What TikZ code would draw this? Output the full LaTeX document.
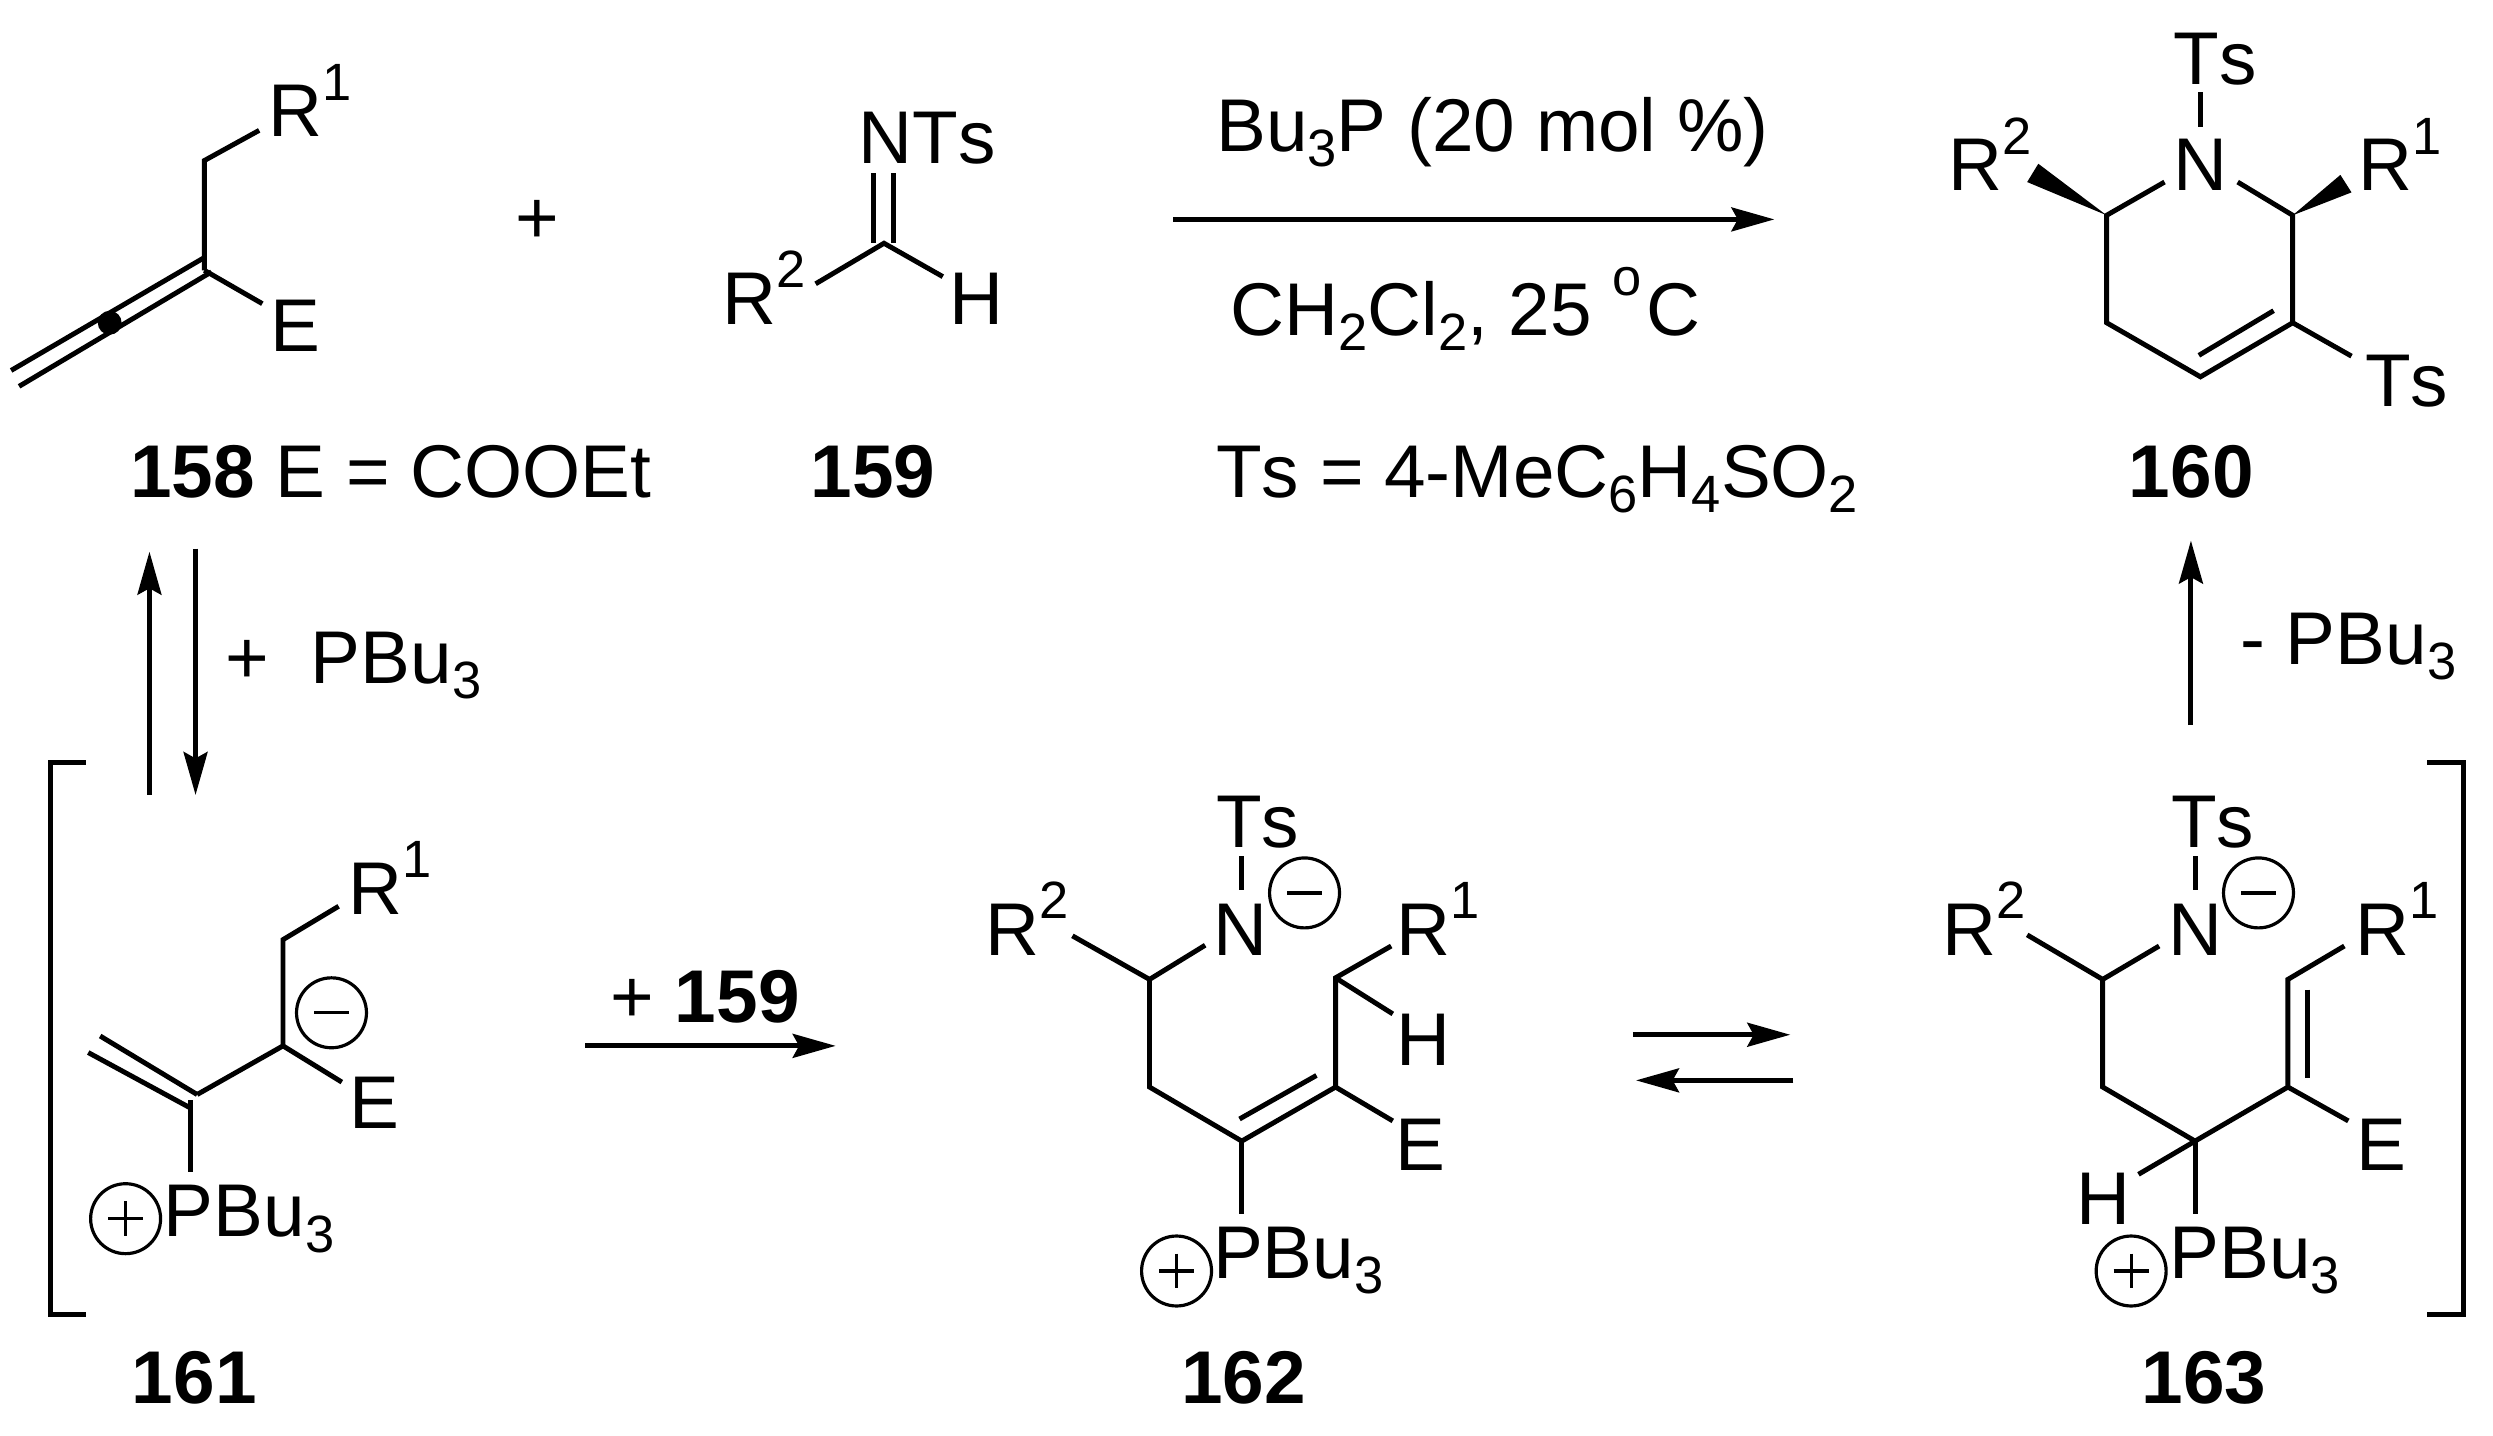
\documentclass[tikz,border=0pt]{standalone}
\usepackage{fontspec}
\setmainfont[Kerning=Off]{Liberation Sans}
\usetikzlibrary{arrows.meta}
\newcommand{\lsub}[1]{\raisebox{-9.5pt}{\fontsize{33}{33}\selectfont #1}}
\newcommand{\lsup}[1]{\raisebox{23pt}{\fontsize{33}{33}\selectfont #1}}
\tikzset{
  bond/.style={line width=3.1pt,line cap=butt,line join=miter},
  rxn/.style={line width=3.1pt,-{Stealth[length=27pt,width=15pt,inset=4pt]}},
  brk/.style={line width=3.2pt,line join=miter},
  txt/.style={anchor=base west,inner sep=0pt,outer sep=0pt,font=\fontsize{47}{56}\selectfont},
  chg/.style={circle,draw,line width=2pt,minimum size=44pt,inner sep=0pt},
  sgn/.style={line width=2pt},
  pics/chgm/.style={code={\node[chg] (#1) at (0,0) {};\draw[sgn] (-11,0) -- (11,0);}},
  pics/chgp/.style={code={\node[chg] (#1) at (0,0) {};\draw[sgn] (-11,0) -- (11,0) (0,-11) -- (0,11);}},
}
\begin{document}
\begin{tikzpicture}[x=1pt,y=-1pt]
\useasboundingbox (0,0) rectangle (1568,902.6);
% ---- 158
\coordinate (a1) at (128.5,101);
\coordinate (a2) at (163,82);
\coordinate (a3) at (128.5,170);
\coordinate (a4) at (128.5,162);
\coordinate (a5) at (7,233);
\coordinate (a6) at (133,171);
\coordinate (a7) at (12,243);
\coordinate (a8) at (165,191);
\draw[bond] (a2) -- (a1) -- (a3);
\draw[bond] (a4) -- (a5);
\draw[bond] (a6) -- (a7);
\draw[bond] (a3) -- (a8);
\node[circle,fill=black,inner sep=0pt,minimum size=15pt] (dot) at (69,203) {};
\node[txt] (t1) at (169,86) {R\lsup{1}};
\node[txt] (t2) at (170,221) {E};
\node[txt] (t3) at (82,313) {\textbf{158} E = COOEt};
\node[txt] (plus) at (324,153) {+};
% ---- 159
\coordinate (b1) at (549.5,109);
\coordinate (b2) at (549.5,153);
\coordinate (b3) at (562,109);
\coordinate (b4) at (562,153);
\coordinate (b5) at (556,153);
\coordinate (b6) at (513,178.5);
\coordinate (b7) at (593,174);
\draw[bond] (b1) -- (b2);
\draw[bond] (b3) -- (b4);
\draw[bond] (b6) -- (b5) -- (b7);
\node[txt] (t4) at (540,103) {NTs};
\node[txt] (t5) at (454.5,204) {R\lsup{2}};
\node[txt] (t6) at (597,204) {H};
\node[txt] (t7) at (510,313) {\textbf{159}};
% ---- main arrow
\coordinate (m1) at (738,138);
\coordinate (m2) at (1116,138);
\draw[rxn] (m1) -- (m2);
\node[txt] (t8) at (765,95.5) {Bu\lsub{3}P (20 mol \%)};
\node[txt] (t9) at (774,211) {CH\lsub{2}Cl\lsub{2}, 25 \raisebox{25pt}{\fontsize{33}{33}\selectfont o}\kern3pt C};
\node[txt] (t10) at (765,313) {Ts = 4-MeC\lsub{6}H\lsub{4}SO\lsub{2}};
% ---- 160
\coordinate (c1) at (1325,135.4);
\coordinate (c2) at (1361.4,114.5);
\coordinate (c3) at (1442,135.4);
\coordinate (c4) at (1407.4,114.5);
\coordinate (c5) at (1325,203);
\coordinate (c6) at (1384,237);
\coordinate (c7) at (1442,203);
\coordinate (c8) at (1430,195.4);
\coordinate (c9) at (1383,223.5);
\coordinate (c10) at (1479,224);
\coordinate (c11) at (1384,58);
\coordinate (c12) at (1384,80);
\coordinate (c13) at (1275,114.5);
\coordinate (c14) at (1282,103);
\coordinate (c15) at (1479,121);
\coordinate (c16) at (1472,110);
\draw[bond] (c2) -- (c1) -- (c5) -- (c6) -- (c7) -- (c3) -- (c4);
\draw[bond] (c8) -- (c9);
\draw[bond] (c7) -- (c10);
\draw[bond] (c11) -- (c12);
\fill (c1) -- (c13) -- (c14) -- cycle;
\fill (c3) -- (c15) -- (c16) -- cycle;
\node[txt] (t11) at (1367,119.5) {N};
\node[txt] (t12) at (1367,53) {Ts};
\node[txt] (t13) at (1225.5,120) {R\lsup{2}};
\node[txt] (t14) at (1483.5,120) {R\lsup{1}};
\node[txt] (t15) at (1487.5,255.6) {Ts};
\node[txt] (t16) at (1339,313) {\textbf{160}};
% ---- 158 <-> 161 arrows
\coordinate (d1) at (94,500);
\coordinate (d2) at (94,347);
\coordinate (d3) at (123,345);
\coordinate (d4) at (123,500);
\draw[rxn] (d1) -- (d2);
\draw[rxn] (d3) -- (d4);
\node[txt] (t17) at (142,430) {+\ \ PBu\lsub{3}};
% ---- brackets
\coordinate (e1) at (54,479.3);
\coordinate (e2) at (32,479.3);
\coordinate (e3) at (32,826.5);
\coordinate (e4) at (54,826.5);
\coordinate (e5) at (1526.6,479.3);
\coordinate (e6) at (1549.4,479.3);
\coordinate (e7) at (1549.4,826.5);
\coordinate (e8) at (1526.6,826.5);
\draw[brk] (e1) -- (e2) -- (e3) -- (e4);
\draw[brk] (e5) -- (e6) -- (e7) -- (e8);
% ---- 161
\coordinate (f1) at (178,591);
\coordinate (f2) at (213,570);
\coordinate (f3) at (178,657.8);
\coordinate (f4) at (215,680.6);
\coordinate (f5) at (124,688.4);
\coordinate (f6) at (63,651.6);
\coordinate (f7) at (55.5,662);
\coordinate (f8) at (120,697);
\coordinate (f9) at (120,692);
\coordinate (f10) at (120,737);
\draw[bond] (f2) -- (f1) -- (f3) -- (f5);
\draw[bond] (f3) -- (f4);
\draw[bond] (f6) -- (f5);
\draw[bond] (f7) -- (f8);
\draw[bond] (f9) -- (f10);
\pic at (208.5,637) {chgm=q1};
\pic at (79,766.5) {chgp=q2};
\node[txt] (t18) at (219.5,575) {R\lsup{1}};
\node[txt] (t19) at (220,710) {E};
\node[txt] (t20) at (103,778) {PBu\lsub{3}};
\node[txt] (t21) at (83,883) {\textbf{161}};
% ---- +159 arrow
\coordinate (g1) at (368,657.8);
\coordinate (g2) at (525.6,657.8);
\draw[rxn] (g1) -- (g2);
\node[txt] (t22) at (384,643) {+ \textbf{159}};
% ---- 162
\coordinate (h1) at (674.5,588.6);
\coordinate (h2) at (723,616);
\coordinate (h3) at (758,594.5);
\coordinate (h4) at (723,683.7);
\coordinate (h5) at (781,717.7);
\coordinate (h6) at (840,683.7);
\coordinate (h7) at (779.6,703.8);
\coordinate (h8) at (828,676.4);
\coordinate (h9) at (781,763.7);
\coordinate (h10) at (840,615);
\coordinate (h11) at (875,595);
\coordinate (h12) at (876,637.7);
\coordinate (h13) at (876,705);
\coordinate (h14) at (781,538.4);
\coordinate (h15) at (781,560);
\draw[bond] (h1) -- (h2) -- (h3);
\draw[bond] (h2) -- (h4) -- (h5) -- (h6) -- (h10) -- (h11);
\draw[bond] (h7) -- (h8);
\draw[bond] (h5) -- (h9);
\draw[bond] (h10) -- (h12);
\draw[bond] (h6) -- (h13);
\draw[bond] (h14) -- (h15);
\pic at (820.5,561.6) {chgm=q3};
\pic at (740,799.4) {chgp=q4};
\node[txt] (t23) at (765,533) {Ts};
\node[txt] (t24) at (763,601) {N};
\node[txt] (t25) at (620,601) {R\lsup{2}};
\node[txt] (t26) at (878.5,601) {R\lsup{1}};
\node[txt] (t27) at (878.5,670) {H};
\node[txt] (t28) at (878,736) {E};
\node[txt] (t29) at (763,804) {PBu\lsub{3}};
\node[txt] (t30) at (743,883) {\textbf{162}};
% ---- equilibrium
\coordinate (i1) at (1027,650.8);
\coordinate (i2) at (1126,650.8);
\coordinate (i3) at (1128,679.5);
\coordinate (i4) at (1029,679.5);
\draw[rxn] (i1) -- (i2);
\draw[rxn] (i3) -- (i4);
% ---- 163
\coordinate (j1) at (1275,588);
\coordinate (j2) at (1322.5,616);
\coordinate (j3) at (1358,595);
\coordinate (j4) at (1322.5,683.7);
\coordinate (j5) at (1380.6,717.7);
\coordinate (j6) at (1439,683.7);
\coordinate (j7) at (1439,616);
\coordinate (j8) at (1474.5,595);
\coordinate (j9) at (1451.3,622.4);
\coordinate (j10) at (1451.3,678);
\coordinate (j11) at (1477,705);
\coordinate (j12) at (1345,738.6);
\coordinate (j13) at (1380.6,763.7);
\coordinate (j14) at (1380.6,538.4);
\coordinate (j15) at (1380.6,560);
\draw[bond] (j1) -- (j2) -- (j3);
\draw[bond] (j2) -- (j4) -- (j5) -- (j6) -- (j7) -- (j8);
\draw[bond] (j9) -- (j10);
\draw[bond] (j6) -- (j11);
\draw[bond] (j5) -- (j12);
\draw[bond] (j5) -- (j13);
\draw[bond] (j14) -- (j15);
\pic at (1420.5,561.6) {chgm=q5};
\pic at (1340.4,799.4) {chgp=q6};
\node[txt] (t31) at (1365.5,533) {Ts};
\node[txt] (t32) at (1364,601) {N};
\node[txt] (t33) at (1221.5,601) {R\lsup{2}};
\node[txt] (t34) at (1481.5,601) {R\lsup{1}};
\node[txt] (t35) at (1482,736) {E};
\node[txt] (t36) at (1306,770) {H};
\node[txt] (t37) at (1364.5,804) {PBu\lsub{3}};
\node[txt] (t38) at (1347,883) {\textbf{163}};
% ---- 163 -> 160
\coordinate (k1) at (1378,456);
\coordinate (k2) at (1378,340);
\draw[rxn] (k1) -- (k2);
\node[txt] (t39) at (1409,418) {- PBu\lsub{3}};
\end{tikzpicture}
\end{document}
